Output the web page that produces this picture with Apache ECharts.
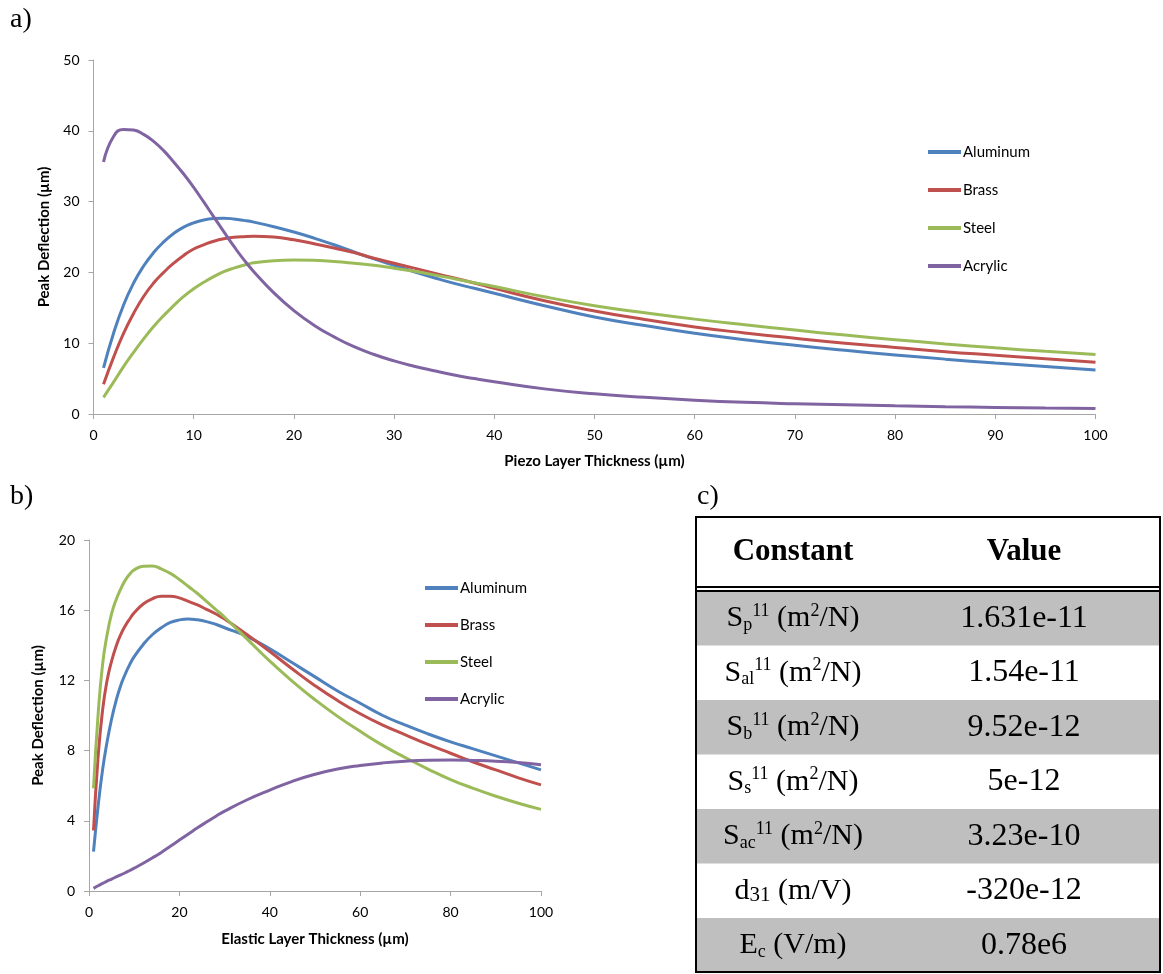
<!DOCTYPE html>
<html>
<head>
<meta charset="utf-8">
<script src="https://cdn.jsdelivr.net/npm/echarts@6/dist/echarts.min.js"></script>
<style>
html,body{margin:0;padding:0;background:#fff;}
#main{width:1163px;height:974px;}
</style>
</head>
<body>
<div id="main"></div>
<script>
// ---------- DATA ----------
var seriesNames = ['Aluminum', 'Brass', 'Steel', 'Acrylic'];

// Chart a) Peak deflection vs piezo layer thickness
var piezoThickness = [1,2,3,4,5,6,7,8,9,10,11,12,13,14,15,16,18,20,22,24,26,28,30,32,34,36,38,40,45,50,55,60,65,70,75,80,85,90,95,100];
var aAluminum = [6.5,11.4,15.4,18.5,20.9,22.8,24.3,25.5,26.4,27.0,27.4,27.6,27.65,27.55,27.35,27.1,26.45,25.7,24.85,23.9,22.9,21.9,21.0,20.1,19.25,18.45,17.75,17.05,15.3,13.7,12.5,11.4,10.5,9.7,9.0,8.35,7.75,7.2,6.7,6.2];
var aBrass    = [4.2,8.0,11.4,14.2,16.6,18.5,20.0,21.3,22.4,23.3,23.9,24.4,24.75,24.95,25.05,25.1,25.0,24.6,24.05,23.45,22.8,22.0,21.3,20.6,19.9,19.2,18.5,17.75,16.0,14.55,13.35,12.3,11.45,10.7,10.0,9.4,8.8,8.3,7.8,7.3];
var aSteel    = [2.35,4.5,6.7,8.7,10.6,12.35,13.9,15.3,16.6,17.7,18.6,19.4,20.1,20.6,21.0,21.35,21.65,21.75,21.7,21.55,21.3,21.0,20.6,20.15,19.65,19.1,18.55,18.0,16.55,15.3,14.3,13.4,12.6,11.85,11.15,10.5,9.9,9.35,8.85,8.4];
var aAcrylic  = [35.6,39.2,40.2,40.1,39.5,38.5,37.2,35.6,33.9,32.0,29.95,27.85,25.75,23.7,21.8,20.1,17.1,14.6,12.55,10.9,9.5,8.4,7.5,6.75,6.1,5.5,5.0,4.55,3.55,2.85,2.35,1.95,1.65,1.45,1.3,1.15,1.03,0.93,0.84,0.76];

// Chart b) Peak deflection vs elastic layer thickness
var elasticThickness = [1,2,3,4,5,6,7,8,9,10,12,14,16,18,20,22,24,26,28,30,35,40,45,50,55,60,65,70,75,80,85,90,95,100];
var bAluminum = [2.25,4.8,6.9,8.5,9.8,10.85,11.7,12.35,12.9,13.35,14.05,14.6,15.0,15.3,15.45,15.5,15.45,15.35,15.2,15.0,14.5,13.8,13.0,12.2,11.4,10.7,10.0,9.45,8.95,8.5,8.1,7.7,7.3,6.9];
var bBrass    = [3.45,7.6,10.3,12.0,13.1,13.95,14.6,15.1,15.5,15.85,16.35,16.65,16.8,16.8,16.7,16.5,16.3,16.05,15.8,15.5,14.6,13.65,12.65,11.7,10.85,10.1,9.45,8.9,8.35,7.85,7.35,6.9,6.45,6.05];
var bSteel    = [5.85,10.0,12.9,14.6,15.8,16.6,17.2,17.7,18.05,18.3,18.5,18.52,18.35,18.1,17.75,17.35,16.95,16.5,16.05,15.6,14.35,13.1,11.95,10.9,9.95,9.1,8.3,7.6,6.95,6.35,5.85,5.4,5.0,4.65];
var bAcrylic  = [0.15,0.3,0.43,0.56,0.68,0.8,0.92,1.04,1.17,1.3,1.58,1.88,2.2,2.55,2.9,3.25,3.6,3.93,4.25,4.55,5.2,5.75,6.25,6.65,6.95,7.15,7.3,7.4,7.45,7.46,7.44,7.4,7.32,7.2];

// Table c)
var tableHeader = ['Constant', 'Value'];
var tableConstants = [
  '{m|S}{sub|p}{sup|11}{m| (m}{sup|2}{m|/N)}',
  '{m|S}{sub|al}{sup|11}{m| (m}{sup|2}{m|/N)}',
  '{m|S}{sub|b}{sup|11}{m| (m}{sup|2}{m|/N)}',
  '{m|S}{sub|s}{sup|11}{m| (m}{sup|2}{m|/N)}',
  '{m|S}{sub|ac}{sup|11}{m| (m}{sup|2}{m|/N)}',
  '{m|d}{sub2|31}{m| (m/V)}',
  '{m|E}{sub|c}{m| (V/m)}'
];
var tableValues = ['1.631e-11', '1.54e-11', '9.52e-12', '5e-12', '3.23e-10', '-320e-12', '0.78e6'];

var colors = ['#4F81BD', '#C0504D', '#9BBB59', '#8064A2'];
// ---------- END DATA ----------

function pairs(xs, ys) { return xs.map(function (x, i) { return [x, ys[i]]; }); }

var labelFont = 'Lato, "Open Sans", sans-serif';
var axisColor = '#a6a6a6';

function mkX(idx, interval, name, gap) {
  return {
    type: 'value', gridIndex: idx, min: 0, max: 100, interval: interval,
    name: name, nameLocation: 'middle', nameGap: gap,
    nameTextStyle: { fontFamily: labelFont, fontWeight: 'bold', fontSize: 15, color: '#000' },
    axisLine: { lineStyle: { color: axisColor, width: 1 } },
    axisTick: { show: true, inside: false, length: 5, lineStyle: { color: axisColor } },
    axisLabel: { fontFamily: labelFont, fontSize: 14, color: '#000', margin: 14 },
    splitLine: { show: false }
  };
}
function mkY(idx, max, interval, gap) {
  return {
    type: 'value', gridIndex: idx, min: 0, max: max, interval: interval,
    name: 'Peak Deflection (µm)', nameLocation: 'middle', nameGap: gap, nameRotate: 90,
    nameTextStyle: { fontFamily: labelFont, fontWeight: 'bold', fontSize: 15, color: '#000' },
    axisLine: { show: true, lineStyle: { color: axisColor, width: 1 } },
    axisTick: { show: true, inside: false, length: 5, lineStyle: { color: axisColor } },
    axisLabel: { fontFamily: labelFont, fontSize: 14, color: '#000', margin: 14 },
    splitLine: { show: false }
  };
}
function mkSeries(name, data, xi, color) {
  return {
    name: name, type: 'line', xAxisIndex: xi, yAxisIndex: xi, data: data,
    smooth: 0.5, symbol: 'none', showSymbol: false,
    lineStyle: { color: color, width: 3 }, itemStyle: { color: color },
    animation: false
  };
}

var aSets = [aAluminum, aBrass, aSteel, aAcrylic];
var bSets = [bAluminum, bBrass, bSteel, bAcrylic];
var series = [];
seriesNames.forEach(function (n, i) { series.push(mkSeries(n, pairs(piezoThickness, aSets[i]), 0, colors[i])); });
seriesNames.forEach(function (n, i) { series.push(mkSeries(n, pairs(elasticThickness, bSets[i]), 1, colors[i])); });

// table graphics
var tX = 696, tW = 464, tTop = 517, rowTop = 591, rowH = 54.5;
var col1 = 793, col2 = 1024;
var serif = '"Liberation Serif", "Times New Roman", serif';
var g = [];
tableConstants.forEach(function (c, i) {
  if (i % 2 === 0) {
    g.push({ type: 'rect', shape: { x: tX, y: rowTop + i * rowH, width: tW, height: rowH }, style: { fill: '#bfbfbf' }, silent: true });
  }
});
g.push({ type: 'rect', shape: { x: tX, y: 586, width: tW, height: 2 }, style: { fill: '#000' } });
g.push({ type: 'rect', shape: { x: tX, y: 590, width: tW, height: 2 }, style: { fill: '#000' } });
g.push({ type: 'rect', shape: { x: tX, y: tTop, width: tW, height: 972 - tTop }, style: { fill: 'none', stroke: '#000', lineWidth: 2 } });
g.push({ type: 'text', x: col1, y: 552, style: { text: tableHeader[0], font: 'bold 31px ' + serif, fill: '#000', align: 'center', verticalAlign: 'middle' } });
g.push({ type: 'text', x: col2, y: 552, style: { text: tableHeader[1], font: 'bold 31px ' + serif, fill: '#000', align: 'center', verticalAlign: 'middle' } });
var rich = {
  m: { fontFamily: serif, fontSize: 30, lineHeight: 44, color: '#000' },
  sub: { fontFamily: serif, fontSize: 18, lineHeight: 18, padding: [14, 0, 0, 0], color: '#000' },
  sub2: { fontFamily: serif, fontSize: 21, lineHeight: 21, padding: [10, 0, 0, 0], color: '#000' },
  sup: { fontFamily: serif, fontSize: 18, lineHeight: 18, padding: [0, 0, 14, 0], color: '#000' }
};
tableConstants.forEach(function (c, i) {
  var cy = rowTop + i * rowH + rowH / 2;
  g.push({ type: 'text', x: col1, y: cy, style: { text: c, rich: rich, align: 'center', verticalAlign: 'middle' } });
  g.push({ type: 'text', x: col2, y: cy, style: { text: tableValues[i], font: '32px ' + serif, fill: '#000', align: 'center', verticalAlign: 'middle' } });
});
g.push({ type: 'text', x: 10, y: 20, style: { text: 'a)', font: '28px ' + serif, fill: '#000', verticalAlign: 'middle' } });
g.push({ type: 'text', x: 10, y: 497, style: { text: 'b)', font: '28px ' + serif, fill: '#000', verticalAlign: 'middle' } });
g.push({ type: 'text', x: 697, y: 497, style: { text: 'c)', font: '28px ' + serif, fill: '#000', verticalAlign: 'middle' } });

var legendBase = {
  orient: 'vertical', icon: 'rect', itemWidth: 33, itemHeight: 4, padding: 0,
  textStyle: { fontFamily: labelFont, fontSize: 15, color: '#000', lineHeight: 16, padding: [0, 0, 0, -3] },
  data: seriesNames, selectedMode: false
};

var option = {
  animation: false,
  backgroundColor: '#fff',
  grid: [
    { left: 93.5, right: 67.5, top: 60, bottom: 560, containLabel: false },
    { left: 89, right: 622, top: 540, bottom: 83, containLabel: false }
  ],
  xAxis: [mkX(0, 10, 'Piezo Layer Thickness (µm)', 40), mkX(1, 20, 'Elastic Layer Thickness (µm)', 41)],
  yAxis: [mkY(0, 50, 10, 42), mkY(1, 20, 4, 43)],
  legend: [
    Object.assign({}, legendBase, { left: 928, top: 144, itemGap: 22 }),
    Object.assign({}, legendBase, { left: 425, top: 580, itemGap: 21 })
  ],
  series: series,
  graphic: g
};

var chart = echarts.init(document.getElementById('main'), null, { renderer: 'canvas' });
chart.setOption(option);
</script>
</body>
</html>
